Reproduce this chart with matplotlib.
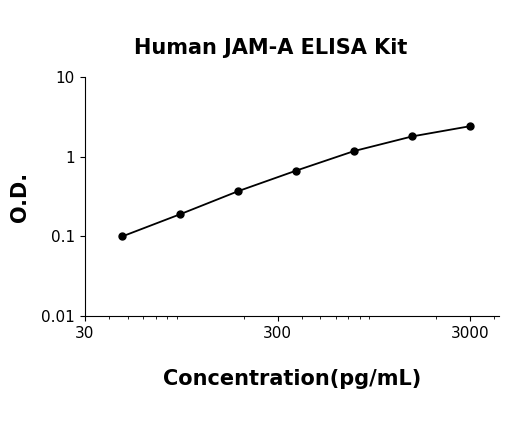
import matplotlib
matplotlib.use("Agg")
import matplotlib.pyplot as plt
from matplotlib.ticker import LogLocator, NullFormatter, FixedLocator, FixedFormatter

conc = [46.875, 93.75, 187.5, 375, 750, 1500, 3000]
od = [0.100, 0.19, 0.37, 0.67, 1.18, 1.80, 2.42]
xticks = [30, 300, 3000]
yticks = [0.01, 0.1, 1, 10]
yticklabels = ["0.01", "0.1", "1", "10"]

fig = plt.figure(figsize=(5.2, 4.21), dpi=100)
ax = fig.add_axes([0.163, 0.249, 0.797, 0.568])
ax.plot(conc, od, color="black", lw=1.3, marker="o", ms=5)
ax.set_xscale("log"); ax.set_yscale("log")
ax.set_xlim(30, 4240); ax.set_ylim(0.01, 10)
ax.xaxis.set_major_locator(FixedLocator(xticks))
ax.xaxis.set_major_formatter(FixedFormatter([str(t) for t in xticks]))
ax.xaxis.set_minor_locator(LogLocator(base=10, subs=range(2, 10)))
ax.xaxis.set_minor_formatter(NullFormatter())
ax.yaxis.set_major_locator(FixedLocator(yticks))
ax.yaxis.set_major_formatter(FixedFormatter(yticklabels))
ax.yaxis.set_minor_locator(FixedLocator([]))
for s in ["top", "right"]:
    ax.spines[s].set_visible(False)
ax.tick_params(labelsize=11, direction="out")
ax.set_xlabel("Concentration(pg/mL)", fontsize=15, fontweight="bold", labelpad=20)
ax.set_ylabel("O.D.", fontsize=15, fontweight="bold", labelpad=8)
fig.suptitle("Human JAM-A ELISA Kit", fontsize=15, fontweight="bold", x=0.52, y=0.909)
fig.savefig("out.png", dpi=100)
